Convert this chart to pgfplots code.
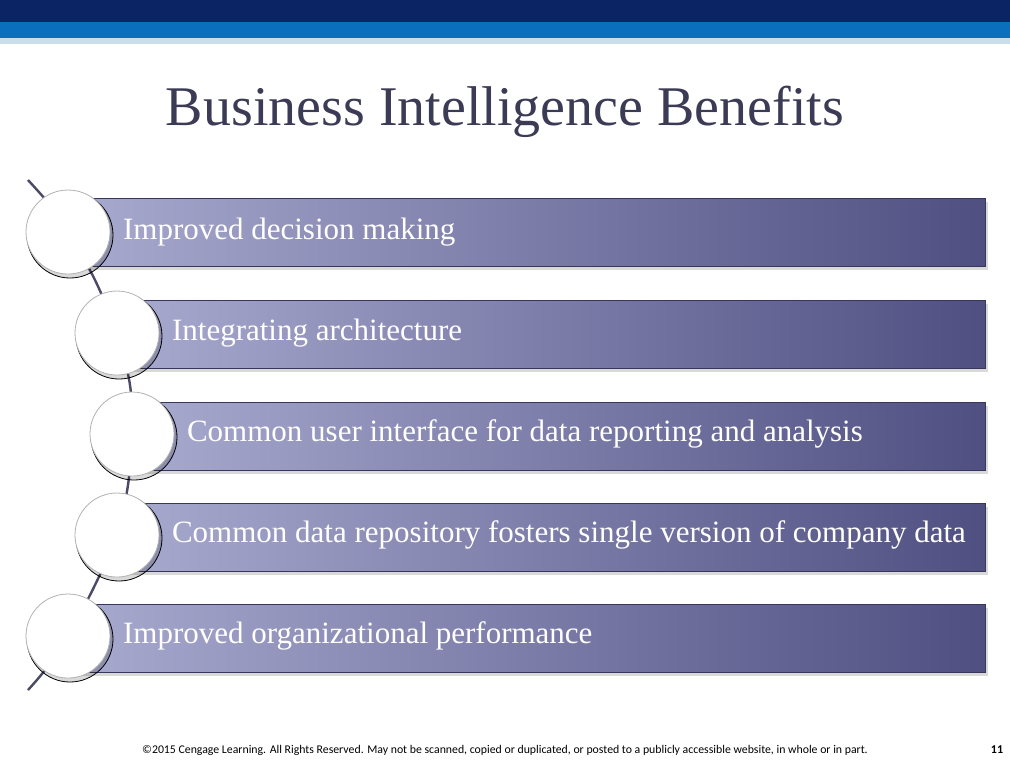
\documentclass[border=0pt]{standalone}
\usepackage{pgfplots}
\pgfplotsset{compat=1.18}
\usepackage{fontspec}
\setmainfont{Liberation Serif}
\newfontfamily\foot{Carlito}
\definecolor{navy}{HTML}{0B2463}
\definecolor{blueband}{HTML}{0A70BE}
\definecolor{lightband}{HTML}{C9DDEA}
\definecolor{barL}{HTML}{A9AACF}
\definecolor{barR}{HTML}{4F4F82}
\definecolor{titlec}{HTML}{3B3B55}
\definecolor{linec}{HTML}{4A4A66}
\begin{document}
\begin{tikzpicture}
\begin{axis}[width=505pt,height=380pt,scale only axis,
  xmin=0,xmax=1010,ymin=0,ymax=760,y dir=reverse,
  axis lines=none,clip=false]
% top bands
\addplot[draw=none,fill=navy] coordinates {(0,0)(1010,0)(1010,22)(0,22)} --cycle;
\addplot[draw=none,fill=blueband] coordinates {(0,22)(1010,22)(1010,38)(0,38)} --cycle;
\addplot[draw=none,fill=lightband] coordinates {(0,38)(1010,38)(1010,44)(0,44)} --cycle;
% connecting curve
\addplot[linec,line width=1.2pt,smooth] coordinates {(28,180)(50,205)(68,232)(95,280)(117,333)(130,385)(132,434)(128,485)(117,535)(95,585)(68,636)(45,670)(28,690)};
% bars: shadows then bars
\foreach \a/\b/\xl in {198/266/68,300/368/117,402/470/132,503/571/117,604/672/68}{
  \addplot[draw=none,fill=black,fill opacity=0.15] coordinates {(\xl+2,\a+4)(988,\a+4)(988,\b+4)(\xl+2,\b+4)} --cycle;
  \addplot[draw=barR!70!black,line width=0.4pt,left color=barL,right color=barR] coordinates {(\xl,\a)(985,\a)(985,\b)(\xl,\b)} --cycle;
}
% circles
\addplot[only marks,mark=*,mark size=21.5pt,mark options={draw=none,fill=black,fill opacity=0.15}] coordinates {(70,235)(119,336)(134,437)(119,538)(70,639)};
\addplot[only marks,mark=*,mark size=21pt,mark options={draw=gray!60,line width=0.4pt,fill=white}] coordinates {(68,232)(117,333)(132,434)(117,535)(68,636)};
% texts
\node[anchor=west,white,font=\fontsize{15.5}{17}\selectfont] at (axis cs:116,232) {Improved decision making};
\node[anchor=west,white,font=\fontsize{15.5}{17}\selectfont] at (axis cs:165,333) {Integrating architecture};
\node[anchor=west,white,font=\fontsize{15.5}{17}\selectfont] at (axis cs:180,434) {Common user interface for data reporting and analysis};
\node[anchor=west,white,font=\fontsize{15.5}{17}\selectfont] at (axis cs:165,535) {Common data repository fosters single version of company data};
\node[anchor=west,white,font=\fontsize{15.5}{17}\selectfont] at (axis cs:116,636) {Improved organizational performance};
\node[titlec,font=\fontsize{28}{32}\selectfont] at (axis cs:505,112) {Business Intelligence Benefits};
\node[font=\foot\fontsize{5.9}{7}\selectfont] at (axis cs:505,750) {\textcopyright2015 Cengage Learning. All Rights Reserved. May not be scanned, copied or duplicated, or posted to a publicly accessible website, in whole or in part.};
\node[font=\foot\bfseries\fontsize{6}{7}\selectfont] at (axis cs:997,750) {11};
\end{axis}
\end{tikzpicture}
\end{document}
